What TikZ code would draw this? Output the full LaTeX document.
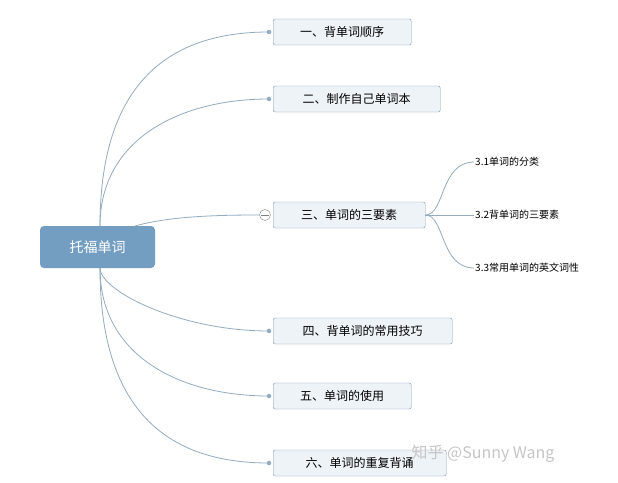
\documentclass[tikz,border=0pt]{standalone}
\usepackage{fontspec}
\setmainfont{Noto Sans CJK SC}
\usetikzlibrary{positioning}
\definecolor{rootblue}{HTML}{739EC1}
\definecolor{boxfill}{HTML}{EEF3F8}
\definecolor{boxline}{HTML}{7F98AD}
\definecolor{linkgray}{HTML}{93ACC0}
\tikzset{
  topic/.style={draw=boxline, fill=boxfill, rounded corners=2pt, minimum height=26pt, inner xsep=8pt, anchor=west, font=\fontsize{12}{14}\selectfont},
  sub/.style={anchor=west, inner sep=1pt, font=\fontsize{10}{12}\selectfont},
  link/.style={draw=linkgray, line width=0.8pt},
  knob/.style={circle, fill=linkgray, inner sep=1.6pt}
}
\begin{document}
\begin{tikzpicture}[x=1pt, y=-1pt]
\useasboundingbox[fill=white] (0,0) rectangle (618,482);
%
\node[fill=rootblue, rounded corners=4pt, minimum width=115pt, minimum height=42pt, text=white, font=\fontsize{14}{16}\selectfont] (root) at (97.5,247) {托福单词};
%
\node[topic, minimum width=138pt] (t1) at (273,32) {一、背单词顺序};
\node[topic, minimum width=167pt] (t2) at (273,99) {二、制作自己单词本};
\node[topic, minimum width=152pt] (t3) at (273,215) {三、单词的三要素};
\node[topic, minimum width=179pt] (t4) at (273,331) {四、背单词的常用技巧};
\node[topic, minimum width=138pt] (t5) at (273,396) {五、单词的使用};
\node[topic, minimum width=173pt] (t6) at (273,463) {六、单词的重复背诵};
%
\coordinate (up) at (100,226);
\coordinate (dn) at (100,268);
\foreach \t/\y in {t1/32,t2/99} {
  \draw[link] (up) .. controls (100,\y+40) and (180,\y) .. (269,\y);
  \node[knob] at (269,\y) {};
}
\foreach \t/\y in {t4/331,t5/396,t6/463} {
  \draw[link] (dn) .. controls (100,\y-40) and (180,\y) .. (269,\y);
  \node[knob] at (269,\y) {};
}
\draw[link] (135,226) .. controls (170,216) and (220,215) .. (259,215);
\node[circle, draw=gray, fill=white, inner sep=0pt, minimum size=11pt] (minus) at (265,215) {};
\draw[gray] (261,215) -- (269,215);
%
\node[sub] (s1) at (474,162) {3.1单词的分类};
\node[sub] (s2) at (474,215) {3.2背单词的三要素};
\node[sub] (s3) at (474,268) {3.3常用单词的英文词性};
\draw[link] (t3.east) .. controls (445,215) and (440,162) .. (s1.west);
\draw[link] (t3.east) -- (s2.west);
\draw[link] (t3.east) .. controls (445,215) and (440,268) .. (s3.west);
%
\node[text=gray!45, font=\fontsize{16}{18}\selectfont, anchor=west] (mark) at (408,454) {知乎 @Sunny Wang};
\end{tikzpicture}
\end{document}
